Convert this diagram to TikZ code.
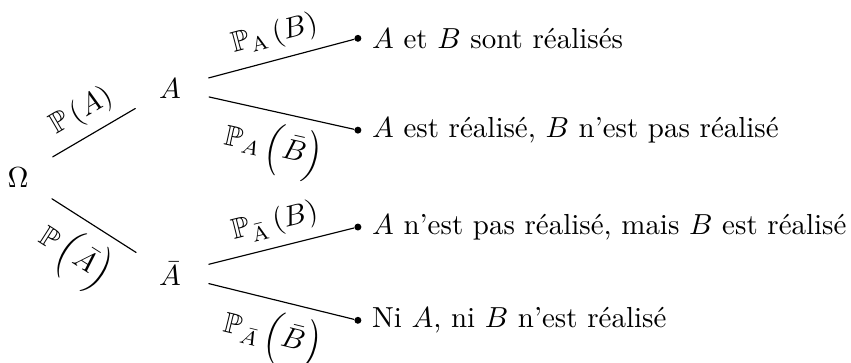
\documentclass[tikz,border=0pt]{standalone}
\usepackage{amsmath,amssymb}
\begin{document}
\begin{tikzpicture}[scale=0.877, line join=round, line cap=round,
	etat/.style={circle, minimum size=0.96cm, inner sep=0pt},
	issue/.style={circle, fill, inner sep=0pt, minimum size=2.4pt}]
	% Cadre de la figure
	\useasboundingbox (0,0) rectangle (11.77,5.02);
	
	% Racine et premier niveau
	\node[etat] (O) at (0.25,2.57) {$\Omega$};
	\node[etat] (A) at (2.35,3.8) {$A$};
	\node[etat] (nA) at (2.35,1.23) {$\bar{A}$};
	\draw (O) -- (A) node[midway, above, sloped] {$\mathbb{P}\left(A\right)$};
	\draw (O) -- (nA) node[midway, below, sloped] {$\mathbb{P}\,\Bigl(\bar{A}\Bigr)$};
	
	% Second niveau : issues
	\node[issue] (AB) at (4.95,4.49) {};
	\node[issue] (AnB) at (4.95,3.22) {};
	\node[issue] (nAB) at (4.95,1.88) {};
	\node[issue] (nAnB) at (4.95,0.59) {};
	\node[right] at (AB.east) {$A$ et $B$ sont réalisés};
	\node[right] at (AnB.east) {$A$ est réalisé, $B$ n'est pas réalisé};
	\node[right] at (nAB.east) {$A$ n'est pas réalisé, mais $B$ est réalisé};
	\node[right] at (nAnB.east) {Ni $A$, ni $B$ n'est réalisé};
	
	% Branches conditionnelles
	\draw (A) -- (AB) node[midway, above, sloped] {$\mathbb{P}_{\mathrm{A}}\left(B\right)$};
	\draw (A) -- (AnB) node[midway, below, sloped] {$\mathbb{P}_{A}\,\Bigl(\bar{B}\Bigr)$};
	\draw (nA) -- (nAB) node[midway, above, sloped] {$\mathbb{P}_{\bar{\mathrm{A}}}\left(B\right)$};
	\draw (nA) -- (nAnB) node[midway, below, sloped] {$\mathbb{P}_{\bar{A}}\,\Bigl(\bar{B}\Bigr)$};
\end{tikzpicture}
\end{document}
